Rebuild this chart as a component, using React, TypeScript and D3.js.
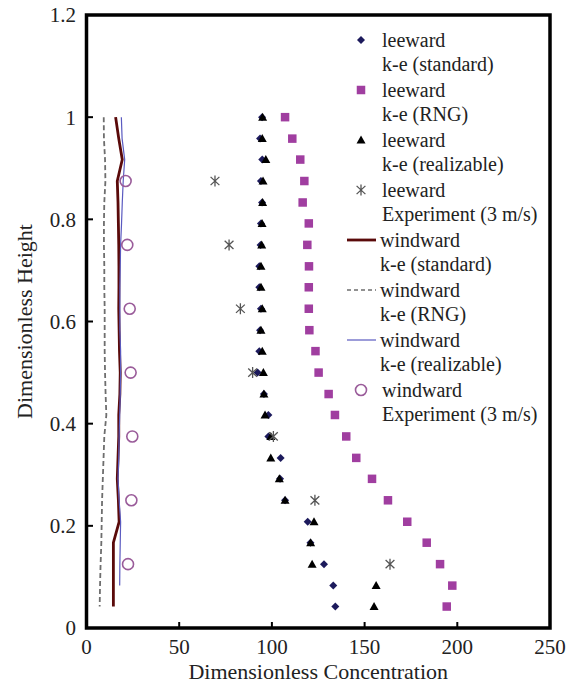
import React from 'react';
import * as d3 from 'd3';

const heights = [1.0, 0.958, 0.917, 0.875, 0.833, 0.792, 0.75, 0.708, 0.667, 0.625, 0.583, 0.542,
  0.5, 0.458, 0.417, 0.375, 0.333, 0.292, 0.25, 0.208, 0.167, 0.125, 0.083, 0.042];

const leewardStandard = [94.7, 93.6, 94.8, 94.1, 94.7, 94.1, 93.9, 93.2, 93.2, 94.1, 93.6, 93.2,
  92.3, 95.7, 98.1, 98.1, 104.7, 104.4, 107.1, 119.3, 120.8, 128.1, 133.1, 134.2];
const leewardRNG = [107.1, 111.0, 115.3, 117.5, 116.6, 119.9, 119.1, 120.0, 119.9, 119.9, 120.2, 123.5,
  125.2, 130.6, 134.0, 140.1, 145.5, 154.0, 162.6, 173.0, 183.5, 190.7, 197.3, 194.3];
const leewardRealizable = [95.0, 94.8, 96.7, 95.2, 95.0, 94.7, 94.5, 94.1, 94.1, 94.8, 94.1, 94.8,
  95.4, 95.7, 96.3, 99.4, 99.4, 104.0, 107.1, 122.7, 120.9, 121.7, 156.2, 155.1];

const expHeights = [0.875, 0.75, 0.625, 0.5, 0.375, 0.25, 0.125];
const leewardExperiment = [69.3, 76.9, 83.0, 89.6, 100.8, 123.2, 163.7];
const windwardExperiment = [21.1, 22.0, 23.3, 23.8, 24.7, 24.2, 22.4];

const windwardStandard = [15.7, 17.4, 19.3, 16.6, 17.0, 17.2, 17.4, 17.5, 17.5, 17.4, 17.6, 17.8,
  18.2, 18.0, 17.4, 17.4, 17.0, 16.6, 17.2, 17.6, 14.5, 14.5, 14.5, 14.5];
const windwardRNG = [9.3, 9.4, 10.0, 10.2, 9.6, 9.4, 9.4, 9.6, 9.6, 9.8, 9.8, 9.8,
  10.0, 10.3, 10.7, 9.6, 9.2, 8.8, 8.4, 8.2, 8.0, 7.6, 7.3, 7.1];
const windwardRealizable = [18.8, 19.2, 20.6, 19.8, 19.3, 18.9, 18.4, 18.2, 18.0, 18.0, 18.0, 18.4,
  18.4, 18.2, 17.9, 17.6, 17.4, 17.0, 17.6, 18.4, 18.2, 18.0, 17.9];

const xTicks = [0, 50, 100, 150, 200, 250];
const yTicks = [0, 0.2, 0.4, 0.6, 0.8, 1, 1.2];

const legendLines1 = ['leeward', 'leeward', 'leeward', 'leeward', 'windward', 'windward', 'windward', 'windward'];
const legendLines2 = ['k-e (standard)', 'k-e (RNG)', 'k-e (realizable)', 'Experiment (3 m/s)',
  'k-e (standard)', 'k-e (RNG)', 'k-e (realizable)', 'Experiment (3 m/s)'];
const legendKinds = ['diamond', 'square', 'triangle', 'star', 'lineStd', 'lineRNG', 'lineReal', 'circle'];

const C = {
  diamond: '#1c1a5c',
  square: '#a03ea0',
  triangle: '#000000',
  star: '#555555',
  lineStd: '#5a0a0a',
  lineRNG: '#6e6e6e',
  lineReal: '#5a5ac0',
  circle: '#9a5c9a',
};

const FONT = 'Liberation Serif, Times New Roman, DejaVu Serif, serif';

function Marker({ kind, cx, cy }: { kind: string; cx: number; cy: number }) {
  if (kind === 'diamond') {
    const r = 4;
    return <path d={`M${cx},${cy - r}L${cx + r},${cy}L${cx},${cy + r}L${cx - r},${cy}Z`} fill={C.diamond} />;
  }
  if (kind === 'square') {
    const s = 8.5;
    return <rect x={cx - s / 2} y={cy - s / 2} width={s} height={s} fill={C.square} />;
  }
  if (kind === 'triangle') {
    return <path d={`M${cx},${cy - 4.5}L${cx + 4.5},${cy + 3.5}L${cx - 4.5},${cy + 3.5}Z`} fill={C.triangle} />;
  }
  if (kind === 'star') {
    const r = 5.5;
    const dx = r * 0.8, dy = r * 0.75;
    return (
      <path d={`M${cx},${cy - r}L${cx},${cy + r}M${cx - dx},${cy - dy}L${cx + dx},${cy + dy}M${cx - dx},${cy + dy}L${cx + dx},${cy - dy}`}
        stroke={C.star} strokeWidth={1.3} fill="none" />
    );
  }
  if (kind === 'circle') {
    return <circle cx={cx} cy={cy} r={5.5} fill="none" stroke={C.circle} strokeWidth={1.6} />;
  }
  return null;
}

export default function App() {
  const W = 575, H = 684;
  const x = d3.scaleLinear().domain([0, 250]).range([86.5, 550]);
  const y = d3.scaleLinear().domain([0, 1.2]).range([628, 15]);

  const line = d3.line<[number, number]>().x(d => x(d[0])).y(d => y(d[1]));
  const pts = (vals: number[]) => vals.map((v, i) => [v, heights[i]] as [number, number]);

  const legendX = 361;
  const legendTextX = 382;
  const legendTop = 40;
  const legendStep = 50;
  const textStyle = { fontFamily: FONT };

  return (
    <svg width={W} height={H} style={{ position: 'absolute', left: 0, top: 0, background: '#fff', fontFamily: FONT }}>
      {/* windward lines */}
      <path d={line(pts(windwardRNG)) || ''} fill="none" stroke={C.lineRNG} strokeWidth={1.8} strokeDasharray="5,3" />
      <path d={line(pts(windwardStandard)) || ''} fill="none" stroke={C.lineStd} strokeWidth={2.8} />
      <path d={line(pts(windwardRealizable)) || ''} fill="none" stroke={C.lineReal} strokeWidth={1.2} />

      {windwardExperiment.map((v, i) => (
        <Marker key={'c' + i} kind="circle" cx={x(v)} cy={y(expHeights[i])} />
      ))}

      {leewardStandard.map((v, i) => (
        <Marker key={'d' + i} kind="diamond" cx={x(v)} cy={y(heights[i])} />
      ))}
      {leewardRNG.map((v, i) => (
        <Marker key={'s' + i} kind="square" cx={x(v)} cy={y(heights[i])} />
      ))}
      {leewardRealizable.map((v, i) => (
        <Marker key={'t' + i} kind="triangle" cx={x(v)} cy={y(heights[i])} />
      ))}
      {leewardExperiment.map((v, i) => (
        <Marker key={'st' + i} kind="star" cx={x(v)} cy={y(expHeights[i])} />
      ))}

      {/* legend */}
      {legendKinds.map((k, i) => {
        const cy = legendTop + i * legendStep;
        let sym: React.ReactNode = null;
        if (k === 'lineStd') sym = <line x1={347} x2={376} y1={cy} y2={cy} stroke={C.lineStd} strokeWidth={2.8} />;
        else if (k === 'lineRNG') sym = <line x1={347} x2={376} y1={cy} y2={cy} stroke={C.lineRNG} strokeWidth={1.6} strokeDasharray="4,3" />;
        else if (k === 'lineReal') sym = <line x1={347} x2={376} y1={cy} y2={cy} stroke={C.lineReal} strokeWidth={1.2} />;
        else sym = <Marker kind={k} cx={legendX} cy={cy} />;
        const tx = k.startsWith('line') ? legendTextX - 2 : legendTextX;
        return (
          <g key={'lg' + i}>
            {sym}
            <text style={textStyle} x={tx} y={cy} dy="0.35em" fontSize={20} fill="#222">{legendLines1[i]}</text>
            <text style={textStyle} x={tx} y={cy + 24} dy="0.35em" fontSize={20} fill="#222">{legendLines2[i]}</text>
          </g>
        );
      })}

      {/* ticks */}
      {xTicks.map(t => (
        <g key={'xt' + t}>
          {t > 0 && t < 250 && <line x1={x(t)} x2={x(t)} y1={628} y2={622} stroke="#000" strokeWidth={2} />}
          <text style={textStyle} x={x(t)} y={647} dy="0.35em" textAnchor="middle" fontSize={21} fill="#222">{t}</text>
        </g>
      ))}
      {yTicks.map(t => (
        <g key={'yt' + t}>
          {t > 0 && t < 1.2 && <line x1={86.5} x2={93} y1={y(t)} y2={y(t)} stroke="#000" strokeWidth={2} />}
          <text style={textStyle} x={76} y={y(t)} dy="0.35em" textAnchor="end" fontSize={21} fill="#222">{String(t)}</text>
        </g>
      ))}

      {/* frame */}
      <rect x={86.5} y={15} width={463.5} height={613} fill="none" stroke="#000" strokeWidth={3.5} />

      {/* axis titles */}
      <text style={textStyle} x={x(125)} y={671} dy="0.35em" textAnchor="middle" fontSize={22} fill="#222">Dimensionless Concentration</text>
      <text style={textStyle} transform={`translate(24,${y(0.6)}) rotate(-90)`} dy="0.35em" textAnchor="middle" fontSize={22} fill="#222">Dimensionless Height</text>
    </svg>
  );
}
